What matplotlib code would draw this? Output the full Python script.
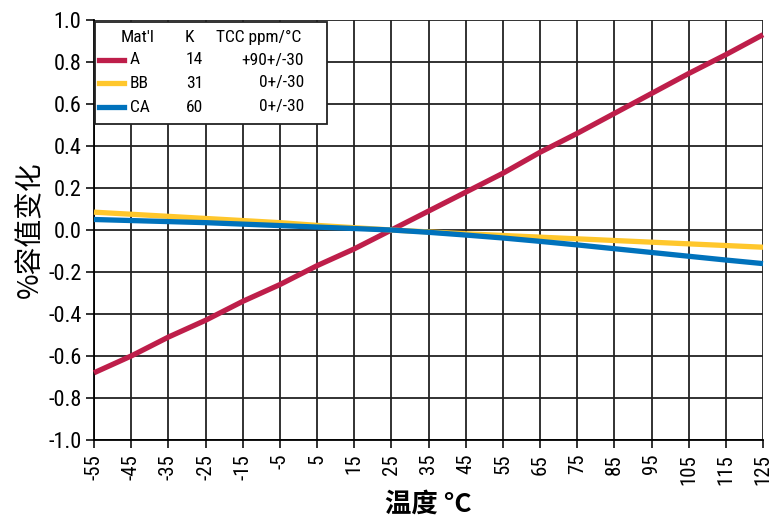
import matplotlib
matplotlib.use("Agg")
import matplotlib.pyplot as plt
from matplotlib import font_manager
from matplotlib.lines import Line2D
from matplotlib.patches import Rectangle

names = {f.name for f in font_manager.fontManager.ttflist}
narrow = "Liberation Sans"
for cand in ["Liberation Sans Narrow", "Roboto Condensed", "Arial Narrow"]:
    if cand in names:
        narrow = cand
        break
cjk = "Noto Sans CJK SC"

# ---- data ----
temps = [-55, -45, -35, -25, -15, -5, 5, 15, 25, 35, 45, 55, 65, 75, 85, 95, 105, 115, 125]
series_A = [-0.68, -0.60, -0.51, -0.43, -0.34, -0.26, -0.17, -0.09, 0.0, 0.09, 0.18, 0.27,
            0.37, 0.46, 0.555, 0.65, 0.745, 0.835, 0.93]
series_BB = [0.085, 0.075, 0.065, 0.055, 0.045, 0.035, 0.022, 0.011, 0.0, -0.009, -0.018,
             -0.026, -0.034, -0.042, -0.050, -0.058, -0.066, -0.074, -0.082]
series_CA = [0.05, 0.045, 0.04, 0.035, 0.028, 0.021, 0.014, 0.007, 0.0, -0.011, -0.024,
             -0.038, -0.054, -0.071, -0.089, -0.107, -0.125, -0.143, -0.16]
names_ = ["A", "BB", "CA"]
k_vals = ["14", "31", "60"]
tcc_vals = ["+90+/-30", "0+/-30", "0+/-30"]
colors = ["#BE1E4A", "#FFC72C", "#0072BC"]
xticks = list(range(-55, 126, 10))
yticks = [-1.0, -0.8, -0.6, -0.4, -0.2, 0.0, 0.2, 0.4, 0.6, 0.8, 1.0]

L, R = 94.0, 763.0
fig = plt.figure(figsize=(7.71, 5.25), dpi=100)
ax = fig.add_axes([L / 771, 1 - 440 / 525, (R - L) / 771, 420 / 525])

for ys, c in zip([series_A, series_BB, series_CA], colors):
    ax.plot(temps, ys, color=c, lw=3.8, solid_capstyle="butt", zorder=3, clip_on=False)

ax.set_xlim(-55, 125)
ax.set_ylim(-1.0, 1.0)
ax.set_xticks(xticks)
ax.set_xticklabels([str(t) for t in xticks], rotation=90, fontsize=15, family=narrow)
ax.set_yticks(yticks)
ax.set_yticklabels([f"{v:.1f}" for v in yticks], fontsize=16, family=narrow)
ax.grid(True, color="#222222", lw=1.3, zorder=1)
for s in ["top", "right"]:
    ax.spines[s].set_visible(False)
for s in ["left", "bottom"]:
    ax.spines[s].set_linewidth(1.3)
ax.tick_params(axis="both", length=6, width=1.3, color="#222222")
ax.tick_params(axis="x", pad=4)
ax.tick_params(axis="y", pad=3)

ax.set_xlabel("温度 °C", fontsize=19, fontweight="bold", family=[cjk, "DejaVu Sans"], labelpad=4)
ax.set_ylabel("%容值变化", fontsize=20, fontweight="medium", family=[cjk, "DejaVu Sans"], labelpad=2)

# legend table
def px(x, y):
    return (x - L) / (R - L), (440 - y) / 420

x0, y0 = px(95, 124)
x1, y1 = px(327, 22)
ax.add_patch(Rectangle((x0, y0), x1 - x0, y1 - y0, transform=ax.transAxes,
                       facecolor="white", edgecolor="#222222", lw=1.3, zorder=5, clip_on=False))
fs = 12.5
hx, hy = px(121, 37)
ax.text(hx, hy, "Mat'l", transform=ax.transAxes, fontsize=fs, family=narrow, va="center", ha="left", zorder=6)
kx, _ = px(185, 37)
ax.text(kx, hy, "K", transform=ax.transAxes, fontsize=fs, family=narrow, va="center", ha="left", zorder=6)
tx, _ = px(216, 37)
ax.text(tx, hy, "TCC ppm/°C", transform=ax.transAxes, fontsize=fs, family=narrow, va="center", ha="left", zorder=6)
rows_y = [60, 83, 107]
for i in range(3):
    lx0, ly = px(99, rows_y[i])
    lx1, _ = px(124, rows_y[i])
    ax.add_line(Line2D([lx0, lx1], [ly, ly], transform=ax.transAxes, color=colors[i], lw=3.8,
                       zorder=6, clip_on=False))
    nx, _ = px(130, 0)
    ax.text(nx, ly, names_[i], transform=ax.transAxes, fontsize=fs, family=narrow, va="center", ha="left", zorder=6)
    kx2, _ = px(186, 0)
    ax.text(kx2, ly, k_vals[i], transform=ax.transAxes, fontsize=fs, family=narrow, va="center", ha="left", zorder=6)
    rx, _ = px(304, 0)
    ax.text(rx, ly, tcc_vals[i], transform=ax.transAxes, fontsize=fs, family=narrow, va="center", ha="right", zorder=6)

fig.savefig("out.png", dpi=100)
